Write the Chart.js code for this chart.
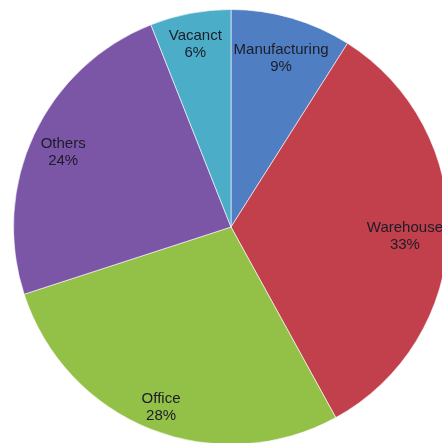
<!DOCTYPE html>
<html>
<head>
<meta charset="utf-8">
<script src="https://cdn.jsdelivr.net/npm/chart.js@4/dist/chart.umd.min.js"></script>
<style>
  html, body { margin: 0; padding: 0; background: #fff; overflow: hidden; width: 442px; height: 443px; }
  #pie { position: absolute; left: 13px; top: 9px; }
</style>
</head>
<body>
<canvas id="pie" width="436" height="436"></canvas>
<script>
"use strict";

// space usage breakdown (percent)
const categorias = ["Manufacturing", "Warehouse", "Office", "Others", "Vacanct"];
const porcentajes = [9, 33, 28, 24, 6];
const colores = ["#4f7fc2", "#c1404b", "#93c047", "#7b55a6", "#4badc7"];

// labels sit on the slice bisector, pushed outward as far as the
// text box still fits inside the circle ("inside end" style)
const etiquetasPie = {
  id: "etiquetasPie",
  afterDatasetsDraw(chart) {
    const ctx = chart.ctx;
    const meta = chart.getDatasetMeta(0);
    const linea = 17;
    ctx.save();
    ctx.font = "15px 'Liberation Sans', Arial, sans-serif";
    ctx.fillStyle = "#1c1c28";
    ctx.textAlign = "center";
    ctx.textBaseline = "middle";
    meta.data.forEach((arc, i) => {
      const txt1 = categorias[i];
      const txt2 = porcentajes[i] + "%";
      const w = Math.max(ctx.measureText(txt1).width, ctx.measureText(txt2).width);
      const h = linea * 2;
      const limite = arc.outerRadius - 4;
      const mid = (arc.startAngle + arc.endAngle) / 2;
      const cos = Math.cos(mid), sin = Math.sin(mid);
      let d = arc.outerRadius;
      for (; d > 0; d -= 0.5) {
        const cx = cos * d, cy = sin * d;
        const fx = Math.abs(cx) + w / 2, fy = Math.abs(cy) + h / 2;
        if (Math.hypot(fx, fy) <= limite) break;
      }
      const x = arc.x + cos * d;
      const y = arc.y + sin * d + 4;
      ctx.fillText(txt1, x, y - linea / 2);
      ctx.fillText(txt2, x, y + linea / 2);
    });
    ctx.restore();
  }
};

new Chart(document.getElementById("pie"), {
  type: "pie",
  data: {
    labels: categorias,
    datasets: [{
      data: porcentajes,
      backgroundColor: colores,
      borderColor: "rgba(255,255,255,0.6)",
      borderWidth: 1
    }]
  },
  options: {
    responsive: false,
    animation: false,
    layout: { padding: 0 },
    plugins: {
      legend: { display: false },
      tooltip: { enabled: false }
    }
  },
  plugins: [etiquetasPie]
});
</script>
</body>
</html>
